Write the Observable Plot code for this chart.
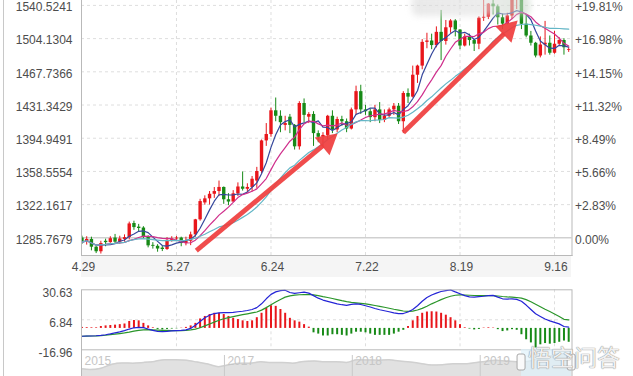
<!DOCTYPE html>
<html><head><meta charset="utf-8">
<script src="https://cdn.jsdelivr.net/npm/d3@7"></script>
<script src="https://cdn.jsdelivr.net/npm/@observablehq/plot@0.6"></script>
<style>
html,body{margin:0;padding:0;background:#fff;}
#wrap{position:relative;width:633px;height:376px;overflow:hidden;background:#fff;font-family:"Liberation Sans",Arial,sans-serif;}
#wrap svg{display:block;overflow:visible;}
.abs{position:absolute;left:0;}
</style></head><body><div id="wrap"></div>
<script>
// ---------- data ----------
const days = ["4.29","4.30","5.1","5.2","5.3","5.6","5.7","5.8","5.9","5.10","5.13","5.14","5.15","5.16","5.17","5.20","5.21","5.22","5.23","5.24","5.27","5.28","5.29","5.30","5.31","6.3","6.4","6.5","6.6","6.7","6.10","6.11","6.12","6.13","6.14","6.17","6.18","6.19","6.20","6.21","6.24","6.25","6.26","6.27","6.28","7.1","7.2","7.3","7.4","7.5","7.8","7.9","7.10","7.11","7.12","7.15","7.16","7.17","7.18","7.19","7.22","7.23","7.24","7.25","7.26","7.29","7.30","7.31","8.1","8.2","8.5","8.6","8.7","8.8","8.9","8.12","8.13","8.14","8.15","8.16","8.19","8.20","8.21","8.22","8.23","8.26","8.27","8.28","8.29","8.30","9.2","9.3","9.4","9.5","9.6","9.9","9.10","9.11","9.12","9.13","9.16","9.17","9.18","9.19"];
const open  = [1285.5,1281.0,1284.0,1275.5,1270.5,1282.0,1280.5,1285.5,1281.0,1284.0,1286.0,1301.5,1297.5,1296.5,1286.5,1277.5,1276.5,1274.5,1273.0,1283.0,1284.5,1285.5,1279.5,1282.0,1289.0,1305.5,1324.0,1328.5,1333.5,1336.5,1341.0,1327.5,1325.0,1334.0,1341.5,1339.0,1341.0,1348.0,1358.5,1392.0,1399.0,1425.0,1419.0,1409.0,1418.0,1409.0,1385.5,1433.0,1418.0,1421.0,1400.0,1396.0,1398.0,1419.0,1404.0,1415.5,1413.0,1405.0,1426.0,1446.0,1426.0,1424.0,1417.5,1426.0,1414.5,1419.0,1426.0,1430.0,1413.0,1444.0,1440.0,1464.0,1474.0,1500.0,1501.5,1496.5,1511.0,1501.0,1516.0,1523.5,1513.5,1496.0,1506.0,1502.0,1498.0,1526.5,1527.5,1542.0,1539.0,1527.0,1520.0,1529.0,1547.0,1551.0,1520.0,1507.0,1499.0,1485.0,1497.0,1499.0,1488.0,1498.0,1502.0,1491.0];
const high  = [1287.6,1287.0,1286.5,1276.5,1282.0,1284.3,1287.0,1289.5,1287.5,1289.0,1303.0,1304.0,1300.5,1298.0,1288.0,1280.5,1278.3,1276.5,1286.0,1287.0,1287.3,1286.5,1286.5,1292.0,1306.0,1328.0,1331.8,1336.5,1340.9,1348.0,1341.5,1334.2,1337.5,1346.0,1358.0,1345.0,1353.0,1363.0,1393.0,1411.0,1428.0,1439.0,1425.0,1419.0,1421.0,1410.0,1435.0,1438.0,1423.0,1424.0,1403.0,1401.0,1420.0,1425.0,1418.0,1419.0,1416.0,1428.0,1452.0,1453.0,1431.0,1427.0,1431.0,1434.0,1426.0,1428.0,1433.0,1433.0,1446.0,1449.0,1474.0,1475.0,1503.0,1510.0,1509.0,1517.0,1535.0,1524.0,1525.0,1525.0,1514.0,1509.0,1509.0,1503.0,1528.0,1555.0,1542.5,1546.0,1541.0,1531.0,1532.0,1552.0,1557.0,1552.0,1530.0,1512.0,1500.0,1506.0,1523.0,1507.0,1512.0,1505.0,1504.0,1494.0];
const low   = [1278.5,1277.8,1271.5,1268.5,1268.0,1276.0,1279.8,1279.5,1278.8,1281.0,1283.5,1294.0,1291.6,1284.0,1274.8,1273.4,1270.0,1270.7,1272.0,1281.0,1282.0,1276.0,1277.0,1277.2,1286.5,1304.0,1321.5,1321.7,1329.0,1331.0,1322.5,1321.0,1324.8,1331.0,1337.0,1335.0,1336.0,1340.0,1356.0,1386.0,1396.0,1413.0,1401.0,1403.0,1400.0,1382.0,1382.0,1412.0,1411.0,1386.0,1390.0,1386.0,1393.0,1400.0,1401.0,1408.0,1401.0,1404.0,1420.0,1421.0,1420.0,1412.0,1413.0,1411.0,1412.0,1417.0,1420.0,1410.0,1400.0,1433.0,1439.0,1455.0,1470.0,1493.0,1492.0,1494.0,1480.0,1497.0,1510.0,1506.0,1492.0,1495.0,1496.0,1490.0,1492.0,1523.0,1525.0,1530.0,1519.0,1514.0,1519.0,1525.0,1536.0,1514.0,1505.0,1496.0,1483.0,1483.0,1486.0,1486.0,1487.0,1496.0,1486.0,1489.0];
const close = [1281.0,1284.0,1275.5,1270.5,1279.5,1280.5,1284.8,1281.0,1284.5,1286.0,1301.0,1297.0,1296.0,1286.5,1277.0,1276.5,1273.5,1273.0,1283.0,1284.5,1285.5,1279.5,1282.0,1289.0,1305.5,1325.5,1328.5,1333.5,1336.5,1341.0,1327.5,1325.0,1334.0,1341.5,1339.0,1341.0,1350.0,1358.5,1392.0,1399.0,1425.0,1419.0,1412.0,1411.0,1409.0,1385.5,1433.0,1420.0,1421.0,1400.0,1396.0,1398.0,1419.0,1404.0,1415.5,1413.0,1405.0,1426.0,1446.0,1426.0,1424.0,1417.5,1426.0,1414.5,1419.0,1426.0,1430.0,1413.0,1444.0,1440.0,1464.0,1474.0,1500.0,1501.5,1496.5,1511.0,1501.0,1516.0,1523.5,1513.5,1496.0,1506.0,1502.0,1498.0,1526.5,1527.5,1542.0,1539.0,1527.0,1520.0,1529.0,1547.0,1551.0,1520.0,1507.0,1499.0,1485.0,1497.0,1499.0,1488.0,1498.0,1502.0,1494.0,1492.0];

const priceTicks = [1285.7679,1322.1617,1358.5554,1394.9491,1431.3429,1467.7366,1504.1304,1540.5241];
const pctLabels  = ["0.00%","+2.83%","+5.66%","+8.49%","+11.32%","+14.15%","+16.98%","+19.81%"];
const dateTicks  = [0,20,40,60,80,100];
const maPeriods  = [5,10,20];

const dif  = [-6.2,-6.0,-6.0,-5.8,-5.5,-5.0,-4.3,-3.5,-2.7,-1.8,-0.5,0.5,0.8,0.6,-0.5,-1.5,-2.3,-2.6,-2.4,-2.0,-1.8,-1.6,-1.2,0.0,2.5,5.5,8.5,10.5,11.8,12.3,12.5,12.6,12.8,13.2,13.6,14.2,15.0,16.5,19.5,23.5,27.0,29.0,30.0,30.3,28.5,27.8,28.3,28.8,28.0,26.0,24.0,22.5,21.5,20.5,19.5,18.8,18.3,19.0,19.5,19.0,18.0,17.0,15.8,14.8,14.0,13.2,12.3,11.8,11.8,13.0,15.0,18.0,21.5,24.5,26.5,28.0,29.3,30.0,30.6,29.0,27.5,26.0,25.0,24.8,25.2,25.5,26.0,26.2,24.8,23.5,23.3,23.5,23.0,21.5,18.5,15.0,11.6,9.5,7.5,6.0,4.8,3.6,1.5,1.0];
const dea  = [-6.2,-6.1,-6.0,-5.9,-5.7,-5.4,-5.0,-4.6,-4.1,-3.6,-3.0,-2.2,-1.5,-1.1,-1.0,-1.1,-1.3,-1.5,-1.6,-1.7,-1.7,-1.7,-1.6,-1.2,-0.5,0.5,2.0,3.5,5.0,6.5,7.7,8.6,9.4,10.2,10.9,11.6,12.3,13.0,14.5,16.5,18.8,21.0,23.0,24.8,25.8,26.4,26.7,26.8,26.9,26.6,26.0,25.2,24.5,23.7,22.9,22.0,21.2,20.7,20.3,19.9,19.5,18.9,18.2,17.5,16.8,16.0,15.2,14.5,13.8,13.5,13.7,14.6,15.9,17.6,19.5,21.2,22.8,24.3,25.5,26.3,26.6,26.5,26.3,26.1,26.0,26.0,26.0,26.0,25.7,25.3,25.0,24.8,24.5,24.0,22.8,21.2,19.2,17.2,15.2,13.4,11.5,9.5,7.2,6.8];
const macd = [0.8,0.6,0.5,0.5,1.5,2.0,2.3,2.6,3.0,3.5,5.5,6.3,6.0,4.0,2.0,0.5,-0.8,-1.2,-0.8,-0.5,-0.3,0.2,0.8,2.0,4.0,7.5,9.5,11.0,12.0,12.0,11.0,9.5,8.0,7.0,6.0,5.5,6.0,8.5,12.0,16.0,18.0,17.5,15.0,12.0,8.0,6.0,5.0,3.0,1.0,-3.5,-4.5,-6.0,-6.0,-5.0,-5.0,-5.5,-6.0,-4.5,-3.0,-3.0,-3.5,-4.5,-5.5,-5.5,-5.5,-5.5,-4.5,-3.0,-1.5,1.5,6.0,9.5,12.0,13.0,13.2,13.0,12.0,10.5,8.5,6.0,3.0,0.5,-0.5,-1.2,-0.8,0.3,0.5,0.3,-1.0,-2.5,-2.0,-1.0,-1.5,-5.0,-9.0,-11.5,-15.5,-13.0,-12.0,-12.5,-12.0,-11.0,-10.0,-11.0];
const macdTicks = [30.63,6.84,-16.96];

const navDates  = ["2015-11-20","2015-12-15","2016-01-15","2016-02-15","2016-03-15","2016-04-15","2016-05-15","2016-06-15","2016-07-15","2016-08-15","2016-09-15","2016-10-15","2016-11-15","2016-12-15","2017-01-15","2017-02-15","2017-03-15","2017-04-15","2017-05-15","2017-06-15","2017-07-15","2017-08-15","2017-09-15","2017-10-15","2017-11-15","2017-12-15","2018-01-15","2018-02-15","2018-03-15","2018-04-15","2018-05-15","2018-06-15","2018-07-15","2018-08-15","2018-09-15","2018-10-15","2018-11-15","2018-12-15","2019-01-15","2019-02-15","2019-03-15","2019-04-15","2019-05-15","2019-06-15","2019-07-15","2019-08-15","2019-09-19"];
const navValues = [1077,1061,1095,1210,1245,1240,1260,1290,1340,1340,1325,1270,1215,1140,1195,1240,1235,1280,1255,1260,1240,1290,1300,1280,1280,1260,1335,1330,1325,1335,1300,1275,1230,1190,1195,1225,1220,1250,1290,1320,1300,1280,1285,1360,1420,1510,1505];
const navYears  = [{date:"2015-11-20",label:"2015"},{date:"2017-01-01",label:"2017"},{date:"2018-01-01",label:"2018"},{date:"2019-01-01",label:"2019"}];
const navWindow = ["2019-04-29","2019-09-19"];

// arrows: bar index / price of tail and tip
const arrowTail = [{i:24.2,p:1271.8},{i:68.0,p:1401.2}];
const arrowTip  = [{i:54.1,p:1400.1},{i:92.2,p:1524.0}];

// ---------- layout ----------
const FONT = '"Liberation Sans", Arial, sans-serif';
const TXT = "#4d4d4d";
const RED = "#e8161b", GREEN = "#178a17";
const MA_COLORS = ["#35479c","#cf2f8c","#63b6c6"];
const GRID = "#dedede", FRAME = "#b9b9b9";
const ARROW = "#ef3d3d";
const xMain = {type:"linear", domain:[-0.1,103.7], range:[81,571.5]};
const yMain = {type:"linear", domain:[1266.4,1545.9], range:[255,0]};

const bars = days.map((d,i)=>({i, day:d, open:open[i], high:high[i], low:low[i], close:close[i]}));
const isUp = d => d.close >= d.open;

// arrowheads computed through the scales
const sx = Plot.scale({x:xMain}), sy = Plot.scale({y:yMain});
const headR = 8.6;
const headApex = 2*Math.sqrt(Math.PI*headR*headR/(3*Math.sqrt(3)));
const heads = [], shafts = [];
arrowTail.forEach((t,k)=>{
  const h = arrowTip[k];
  const bx = sx.apply(t.i), by = sy.apply(t.p), tx = sx.apply(h.i), ty = sy.apply(h.p);
  const L = Math.hypot(tx-bx, ty-by), ux = (tx-bx)/L, uy = (ty-by)/L;
  const cx = tx-ux*headApex, cy = ty-uy*headApex;
  const ex = tx-ux*headApex*1.4, ey = ty-uy*headApex*1.4;
  heads.push({i:sx.invert(cx), p:sy.invert(cy), rot:Math.atan2(ux,-uy)*180/Math.PI});
  shafts.push({i1:t.i, p1:t.p, i2:sx.invert(ex), p2:sy.invert(ey)});
});

const style = {background:"transparent", fontFamily:FONT, fontSize:"12px", color:TXT, overflow:"visible"};
const wrap = document.getElementById("wrap");
function place(node, top, left=0){ const d=document.createElement("div"); d.className="abs"; d.style.top=top+"px"; d.style.left=left+"px"; d.appendChild(node); wrap.appendChild(d); return d; }

// x-label band background
const band = document.createElement("div");
band.style.cssText = "position:absolute;left:81px;top:255px;width:490px;height:22px;background:#f5f5f5;";
wrap.appendChild(band);
// outer frame line
const outer = document.createElement("div");
outer.style.cssText = "position:absolute;left:3px;top:0;width:1px;height:376px;background:#c8c8c8;";
wrap.appendChild(outer);

const main = Plot.plot({
  width:633, height:278, marginLeft:81, marginRight:61.5, marginTop:0, marginBottom:23,
  x:{...xMain, axis:null}, y:{...yMain, axis:null}, style,
  marks:[
    Plot.ruleY(priceTicks.slice(1), {stroke:GRID, strokeDasharray:"3,3"}),
    Plot.ruleX(dateTicks.slice(1), {stroke:GRID, strokeDasharray:"3,3"}),
    Plot.ruleY(priceTicks.slice(0,1), {stroke:FRAME}),
    Plot.ruleX(bars, {filter:isUp, x:"i", y1:"low", y2:"high", stroke:RED, strokeWidth:1, clip:true}),
    Plot.ruleX(bars, {filter:d=>!isUp(d), x:"i", y1:"low", y2:"high", stroke:GREEN, strokeWidth:1, clip:true}),
    Plot.ruleX(bars, {filter:isUp, x:"i", y1:"open", y2:"close", stroke:RED, strokeWidth:3.4, clip:true}),
    Plot.ruleX(bars, {filter:d=>!isUp(d), x:"i", y1:"open", y2:"close", stroke:GREEN, strokeWidth:3.4, clip:true}),
    ...maPeriods.map((k,j)=>Plot.lineY(bars, Plot.windowY({k, anchor:"end", reduce:"mean"}, {x:"i", y:"close", stroke:MA_COLORS[j], strokeWidth:1.2, clip:true}))),
    Plot.link(shafts, {x1:"i1", y1:"p1", x2:"i2", y2:"p2", stroke:ARROW, strokeWidth:4.8, strokeOpacity:0.92}),
    Plot.dot(heads, {x:"i", y:"p", rotate:"rot", symbol:"triangle", r:headR, fill:ARROW, fillOpacity:0.92, stroke:null}),
    Plot.frame({anchor:"left", stroke:FRAME}),
    Plot.frame({anchor:"right", stroke:FRAME}),
    Plot.frame({anchor:"bottom", stroke:FRAME}),
    Plot.text(priceTicks, {y:d=>d, text:d=>d.toFixed(4), frameAnchor:"left", textAnchor:"end", dx:-9, dy:2, fill:TXT}),
    Plot.text(priceTicks, {y:d=>d, text:(d,i)=>pctLabels[i], frameAnchor:"right", textAnchor:"start", dx:3, dy:2, fill:TXT}),
    Plot.text(dateTicks, {x:d=>d, text:d=>days[d], frameAnchor:"bottom", dy:12, dx:1.5, lineAnchor:"middle", fill:TXT})
  ]
});
place(main, 0);

// faded watermark blob at the top
const blob = document.createElement("div");
blob.style.cssText = "position:absolute;left:412px;top:-6px;width:118px;height:22px;border-radius:6px;background:linear-gradient(90deg,rgba(215,215,215,0.55),rgba(225,225,225,0.6) 60%,rgba(200,215,200,0.6));filter:blur(3px);";
wrap.appendChild(blob);

const macdRows = days.map((d,i)=>({i, dif:dif[i], dea:dea[i], macd:macd[i]}));
const macdPlot = Plot.plot({
  width:633, height:63, marginLeft:81, marginRight:61.5, marginTop:1.3, marginBottom:1.7,
  x:{...xMain, axis:null}, y:{domain:[-16.96,30.63], axis:null}, style,
  marks:[
    Plot.ruleY([macdTicks[1]], {stroke:GRID, strokeDasharray:"3,3"}),
    Plot.ruleX(dateTicks.slice(1), {stroke:GRID, strokeDasharray:"3,3"}),
    Plot.ruleX(macdRows, {filter:d=>d.macd>=0, x:"i", y1:0, y2:"macd", stroke:RED, strokeWidth:2}),
    Plot.ruleX(macdRows, {filter:d=>d.macd<0, x:"i", y1:0, y2:"macd", stroke:GREEN, strokeWidth:2}),
    Plot.line(macdRows, {x:"i", y:"dea", stroke:"#2b962b", strokeWidth:1.2}),
    Plot.line(macdRows, {x:"i", y:"dif", stroke:"#2424d6", strokeWidth:1.2}),
    Plot.frame({stroke:FRAME}),
    Plot.text(macdTicks, {y:d=>d, text:d=>d.toFixed(2), frameAnchor:"left", textAnchor:"end", dx:-9, dy:3, fill:TXT})
  ]
});
place(macdPlot, 288);

const nav = navDates.map((d,i)=>({date:new Date(d), value:navValues[i]}));
const navPlot = Plot.plot({
  width:633, height:27, marginLeft:81, marginRight:61.5, marginTop:0, marginBottom:0,
  x:{type:"utc", domain:[new Date("2015-11-20"), new Date("2019-09-20")], range:[81,571.5], axis:null},
  y:{domain:[857,1631], axis:null}, style,
  marks:[
    Plot.areaY(nav, {x:"date", y:"value", fill:"#e1e1e1", curve:"monotone-x", clip:true}),
    Plot.lineY(nav, {x:"date", y:"value", stroke:"#d0d0d0", curve:"monotone-x", clip:true}),
    Plot.rect([navWindow], {x1:d=>new Date(d[0]), x2:d=>new Date(d[1]), fill:"#dff2fb", fillOpacity:0.7}),
    Plot.ruleX(navYears.slice(1), {x:d=>new Date(d.date), stroke:"#c9c9c9", insetTop:6}),
    Plot.text(navYears, {x:d=>new Date(d.date), text:"label", frameAnchor:"top", dy:11.5, dx:3, textAnchor:"start", lineAnchor:"middle", fill:"#c6c6c6"}),
    Plot.rect(navWindow, {x1:d=>new Date(d), x2:d=>new Date(d), insetLeft:-4, insetRight:-4, insetTop:5, insetBottom:6, fill:"#fafafa", stroke:"#a8a8a8", rx:2}),
    Plot.frame({anchor:"left", stroke:FRAME}),
    Plot.frame({anchor:"right", stroke:FRAME})
  ]
});
place(navPlot, 349.3);

// watermark
const wm = document.createElement("div");
wm.textContent = "悟空问答";
wm.style.cssText = 'position:absolute;left:528px;top:339px;font-family:"Noto Sans CJK SC";font-size:23px;color:rgba(255,255,255,0.9);text-shadow:0 0 1px #888,0 0 1px #888;letter-spacing:0px;';
wrap.appendChild(wm);
</script></body></html>
